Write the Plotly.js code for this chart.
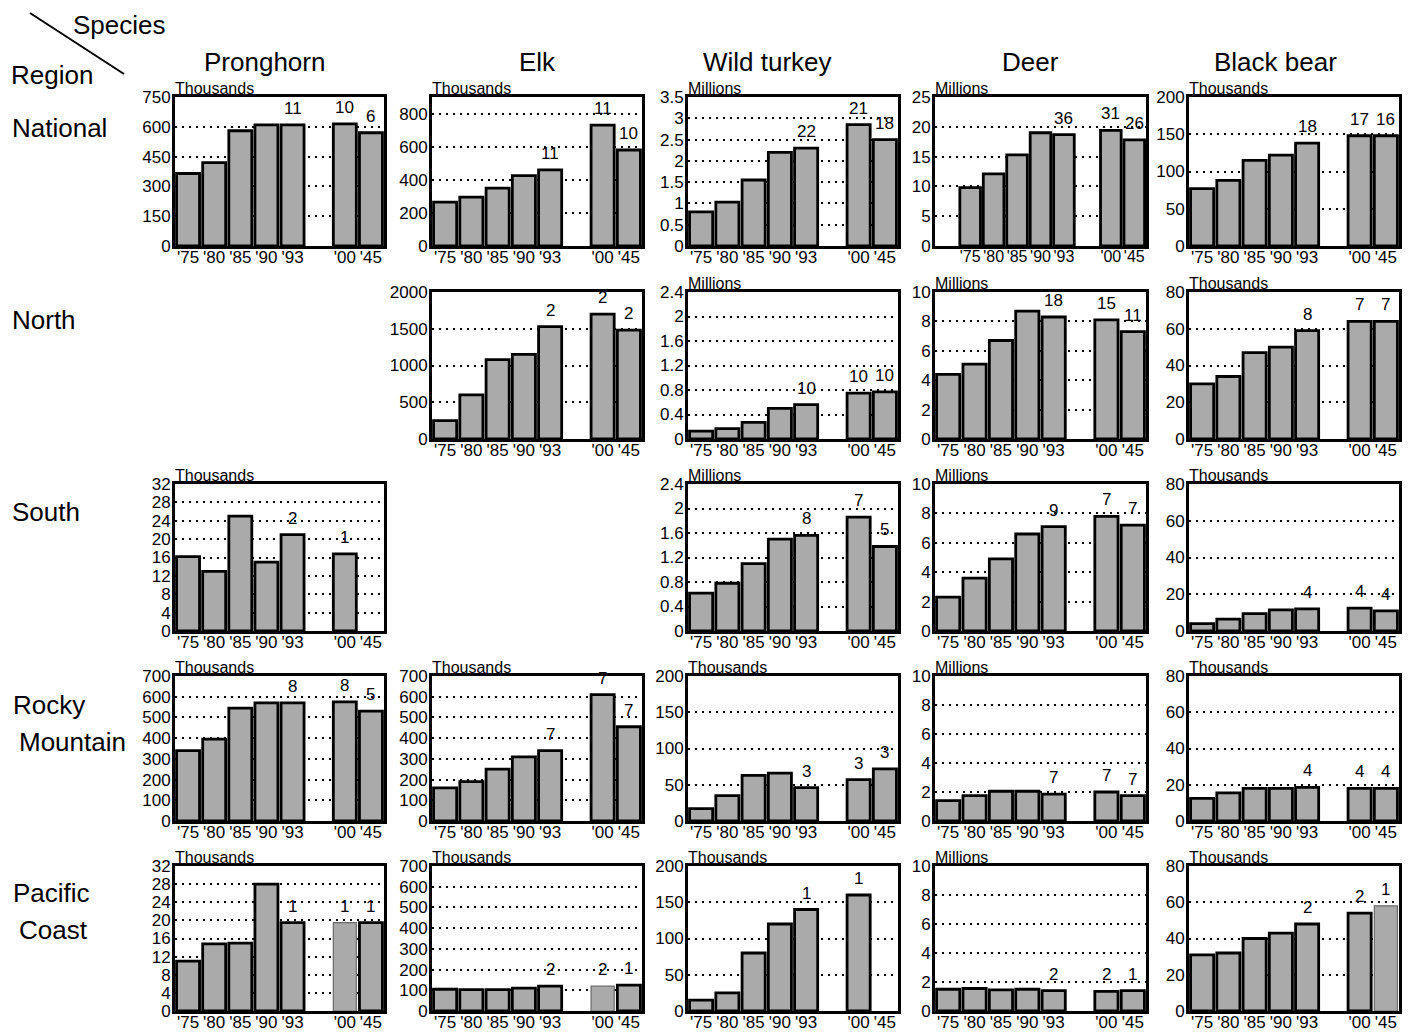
<!DOCTYPE html>
<html>
<head>
<meta charset="utf-8">
<script src="https://cdn.plot.ly/plotly-3.0.1.min.js"></script>
<style>
  html, body { margin: 0; padding: 0; background: #fff; }
  #chart { width: 1413px; height: 1032px; }
</style>
</head>
<body>
<div id="chart"></div>
<script>
// ---------------- data ----------------
const years = ["'75", "'80", "'85", "'90", "'93", "'00", "'45"];
const species = ["Pronghorn", "Elk", "Wild turkey", "Deer", "Black bear"];
const regionLines = [["National"], ["North"], ["South"], ["Rocky", "Mountain"], ["Pacific", "Coast"]];

// National
const natPronghorn = [365, 420, 580, 610, 610, 615, 570];
const natPronghornN = [null, null, null, null, 11, 10, 6];
const natElk = [265, 295, 350, 425, 460, 730, 580];
const natElkN = [null, null, null, null, 11, 11, 10];
const natTurkey = [0.80, 1.03, 1.55, 2.20, 2.30, 2.85, 2.50];
const natTurkeyN = [null, null, null, null, 22, 21, 18];
const natDeer = [9.8, 12.1, 15.3, 19.0, 18.7, 19.4, 17.8];
const natDeerN = [null, null, null, null, 36, 31, 26];
const natBear = [77, 88, 115, 122, 138, 148, 148];
const natBearN = [null, null, null, null, 18, 17, 16];

// North
const norElk = [250, 600, 1080, 1150, 1530, 1700, 1480];
const norElkN = [null, null, null, null, 2, 2, 2];
const norTurkey = [0.13, 0.17, 0.27, 0.50, 0.56, 0.75, 0.77];
const norTurkeyN = [null, null, null, null, 10, 10, 10];
const norDeer = [4.4, 5.1, 6.7, 8.7, 8.3, 8.1, 7.3];
const norDeerN = [null, null, null, null, 18, 15, 11];
const norBear = [30, 34, 47, 50, 59, 64, 64];
const norBearN = [null, null, null, null, 8, 7, 7];

// South
const souPronghorn = [16.2, 13, 25, 15, 21, 16.8, null];
const souPronghornN = [null, null, null, null, 2, 1, null];
const souTurkey = [0.62, 0.78, 1.10, 1.50, 1.56, 1.86, 1.38];
const souTurkeyN = [null, null, null, null, 8, 7, 5];
const souDeer = [2.3, 3.6, 4.9, 6.6, 7.1, 7.8, 7.2];
const souDeerN = [null, null, null, null, 9, 7, 7];
const souBear = [4, 6.5, 9.5, 11.5, 12, 12.5, 11];
const souBearN = [null, null, null, null, 4, 4, 4];

// Rocky Mountain
const rmPronghorn = [340, 395, 545, 570, 570, 575, 530];
const rmPronghornN = [null, null, null, null, 8, 8, 5];
const rmElk = [160, 190, 250, 310, 340, 610, 455];
const rmElkN = [null, null, null, null, 7, 7, 7];
const rmTurkey = [17, 35, 63, 66, 46, 57, 72];
const rmTurkeyN = [null, null, null, null, 3, 3, 3];
const rmDeer = [1.4, 1.75, 2.05, 2.05, 1.85, 2.0, 1.75];
const rmDeerN = [null, null, null, null, 7, 7, 7];
const rmBear = [12.5, 15.5, 18, 18, 18.5, 18, 18];
const rmBearN = [null, null, null, null, 4, 4, 4];

// Pacific Coast
const pcPronghorn = [11, 14.8, 15, 28, 19.5, 19.5, 19.5];
const pcPronghornN = [null, null, null, null, 1, 1, 1];
const pcElk = [105, 103, 103, 110, 120, 120, 125];
const pcElkN = [null, null, null, null, 2, 2, 1];
const pcTurkey = [15, 25, 80, 120, 140, 160, null];
const pcTurkeyN = [null, null, null, null, 1, 1, null];
const pcDeer = [1.5, 1.55, 1.45, 1.5, 1.4, 1.35, 1.4];
const pcDeerN = [null, null, null, null, 2, 2, 1];
const pcBear = [31, 32, 40, 43, 48, 54, 58];
const pcBearN = [null, null, null, null, 2, 2, 1];

const unitNames = ["Thousands", "Millions"];

// ---------------- panels ----------------
// [row, col, values, counts, unitIndex, axisMax, tickStep, lightBarIndex]
const panels = [
  [0, 0, natPronghorn, natPronghornN, 0, 750, 150, -1],
  [0, 1, natElk, natElkN, 0, 900, 200, -1],
  [0, 2, natTurkey, natTurkeyN, 1, 3.5, 0.5, -1],
  [0, 3, natDeer, natDeerN, 1, 25, 5, -1],
  [0, 4, natBear, natBearN, 0, 200, 50, -1],
  [1, 1, norElk, norElkN, -1, 2000, 500, -1],
  [1, 2, norTurkey, norTurkeyN, 1, 2.4, 0.4, -1],
  [1, 3, norDeer, norDeerN, 1, 10, 2, -1],
  [1, 4, norBear, norBearN, 0, 80, 20, -1],
  [2, 0, souPronghorn, souPronghornN, 0, 32, 4, -1],
  [2, 2, souTurkey, souTurkeyN, 1, 2.4, 0.4, -1],
  [2, 3, souDeer, souDeerN, 1, 10, 2, -1],
  [2, 4, souBear, souBearN, 0, 80, 20, -1],
  [3, 0, rmPronghorn, rmPronghornN, 0, 700, 100, -1],
  [3, 1, rmElk, rmElkN, 0, 700, 100, -1],
  [3, 2, rmTurkey, rmTurkeyN, 0, 200, 50, -1],
  [3, 3, rmDeer, rmDeerN, 1, 10, 2, -1],
  [3, 4, rmBear, rmBearN, 0, 80, 20, -1],
  [4, 0, pcPronghorn, pcPronghornN, 0, 32, 4, 5],
  [4, 1, pcElk, pcElkN, 0, 700, 100, 5],
  [4, 2, pcTurkey, pcTurkeyN, 0, 200, 50, -1],
  [4, 3, pcDeer, pcDeerN, 1, 10, 2, -1],
  [4, 4, pcBear, pcBearN, 0, 80, 20, 6]
];

// ---------------- geometry (pixels) ----------------
const W = 1413, H = 1032;
const colL = [175, 432, 688, 935, 1189];
const colR = [384, 642, 898, 1146, 1399];
const rowT = [97, 292, 484, 676, 866];
const rowB = [246, 439, 631, 821, 1011];
const slots = [0, 1, 2, 3, 4, 6, 7];

const FONT = "Liberation Sans, Arial, Helvetica, sans-serif";
const BLACK = "#000000";

const data = [];
const layout = {
  width: W, height: H,
  margin: {l: 0, r: 0, t: 0, b: 0},
  paper_bgcolor: "#ffffff",
  plot_bgcolor: "rgba(0,0,0,0)",
  showlegend: false,
  bargap: 0.12,
  font: {family: FONT, color: BLACK, size: 17},
  annotations: [],
  shapes: []
};

panels.forEach((p, i) => {
  const [row, col, vals, counts, unit, ymax, step, lightIdx] = p;
  const k = i + 1;
  const xs = k === 1 ? "" : String(k);
  const xa = "x" + xs, ya = "y" + xs;
  const extraLead = (row === 0 && col === 3);

  const lineW = vals.map((v, j) => j === lightIdx ? 1.2 : 2.8);
  const lineC = vals.map((v, j) => j === lightIdx ? "#6a6a6a" : BLACK);

  data.push({
    type: "bar",
    x: slots,
    y: vals,
    xaxis: xa, yaxis: ya,
    marker: {color: "#aaaaaa", line: {color: lineC, width: lineW}},
    hoverinfo: "skip",
    cliponaxis: false
  });

  layout["xaxis" + xs] = {
    domain: [colL[col] / W, colR[col] / W],
    anchor: ya,
    range: [extraLead ? -1.5 : -0.5, 7.5],
    tickmode: "array",
    tickvals: slots,
    ticktext: years,
    tickangle: 0,
    ticks: "",
    ticklabelstandoff: -6,
    showgrid: false,
    zeroline: false,
    showline: true, mirror: true, linewidth: 3, linecolor: BLACK,
    tickfont: {family: FONT, size: extraLead ? 16 : 17, color: BLACK},
    fixedrange: true
  };
  layout["yaxis" + xs] = {
    domain: [1 - rowB[row] / H, 1 - rowT[row] / H],
    anchor: xa,
    range: [0, ymax],
    tick0: 0, dtick: step,
    ticks: "",
    ticklabelstandoff: -2,
    showgrid: true, gridcolor: BLACK, gridwidth: 2, griddash: "2px,5px",
    zeroline: false,
    showline: true, mirror: true, linewidth: 3, linecolor: BLACK,
    tickfont: {family: FONT, size: 17, color: BLACK},
    fixedrange: true
  };

  if (unit >= 0) {
    layout.annotations.push({
      xref: "paper", yref: "paper",
      x: colL[col] / W, y: 1 - rowT[row] / H,
      xanchor: "left", yanchor: "bottom",
      text: unitNames[unit], showarrow: false,
      font: {family: FONT, size: 16, color: BLACK},
      xshift: -2, yshift: -2
    });
  }

  counts.forEach((c, j) => {
    if (c === null || vals[j] === null) return;
    layout.annotations.push({
      xref: xa, yref: ya,
      x: slots[j], y: vals[j],
      xanchor: "center", yanchor: "bottom",
      text: String(c), showarrow: false,
      font: {family: FONT, size: 17, color: BLACK},
      yshift: 5
    });
  });
});

// column headers
const colTitleX = [264, 537, 767, 1030, 1275];
species.forEach((s, c) => {
  layout.annotations.push({
    xref: "paper", yref: "paper",
    x: colTitleX[c] / W, y: 1 - 62 / H,
    xanchor: "center", yanchor: "middle",
    text: s, showarrow: false,
    font: {family: FONT, size: 26, color: BLACK}
  });
});

// row headers
const rowLineY = [[128], [320], [512], [705, 742], [893, 930]];
const rowLineX = [[10], [10], [10], [11, 17], [11, 17]];
regionLines.forEach((lines, r) => {
  lines.forEach((t, j) => {
    layout.annotations.push({
      xref: "paper", yref: "paper",
      x: rowLineX[r][j] / W, y: 1 - rowLineY[r][j] / H,
      xanchor: "left", yanchor: "middle",
      text: t, showarrow: false,
      font: {family: FONT, size: 26, color: BLACK}
    });
  });
});

// corner header
layout.annotations.push({
  xref: "paper", yref: "paper", x: 119 / W, y: 1 - 25 / H,
  xanchor: "center", yanchor: "middle", text: "Species", showarrow: false,
  font: {family: FONT, size: 26, color: BLACK}
});
layout.annotations.push({
  xref: "paper", yref: "paper", x: 52 / W, y: 1 - 75 / H,
  xanchor: "center", yanchor: "middle", text: "Region", showarrow: false,
  font: {family: FONT, size: 26, color: BLACK}
});
layout.shapes.push({
  type: "line", xref: "paper", yref: "paper",
  x0: 30 / W, y0: 1 - 13 / H, x1: 124 / W, y1: 1 - 74 / H,
  line: {color: BLACK, width: 2}
});

Plotly.newPlot("chart", data, layout, {displayModeBar: false, staticPlot: true});
</script>
</body>
</html>
